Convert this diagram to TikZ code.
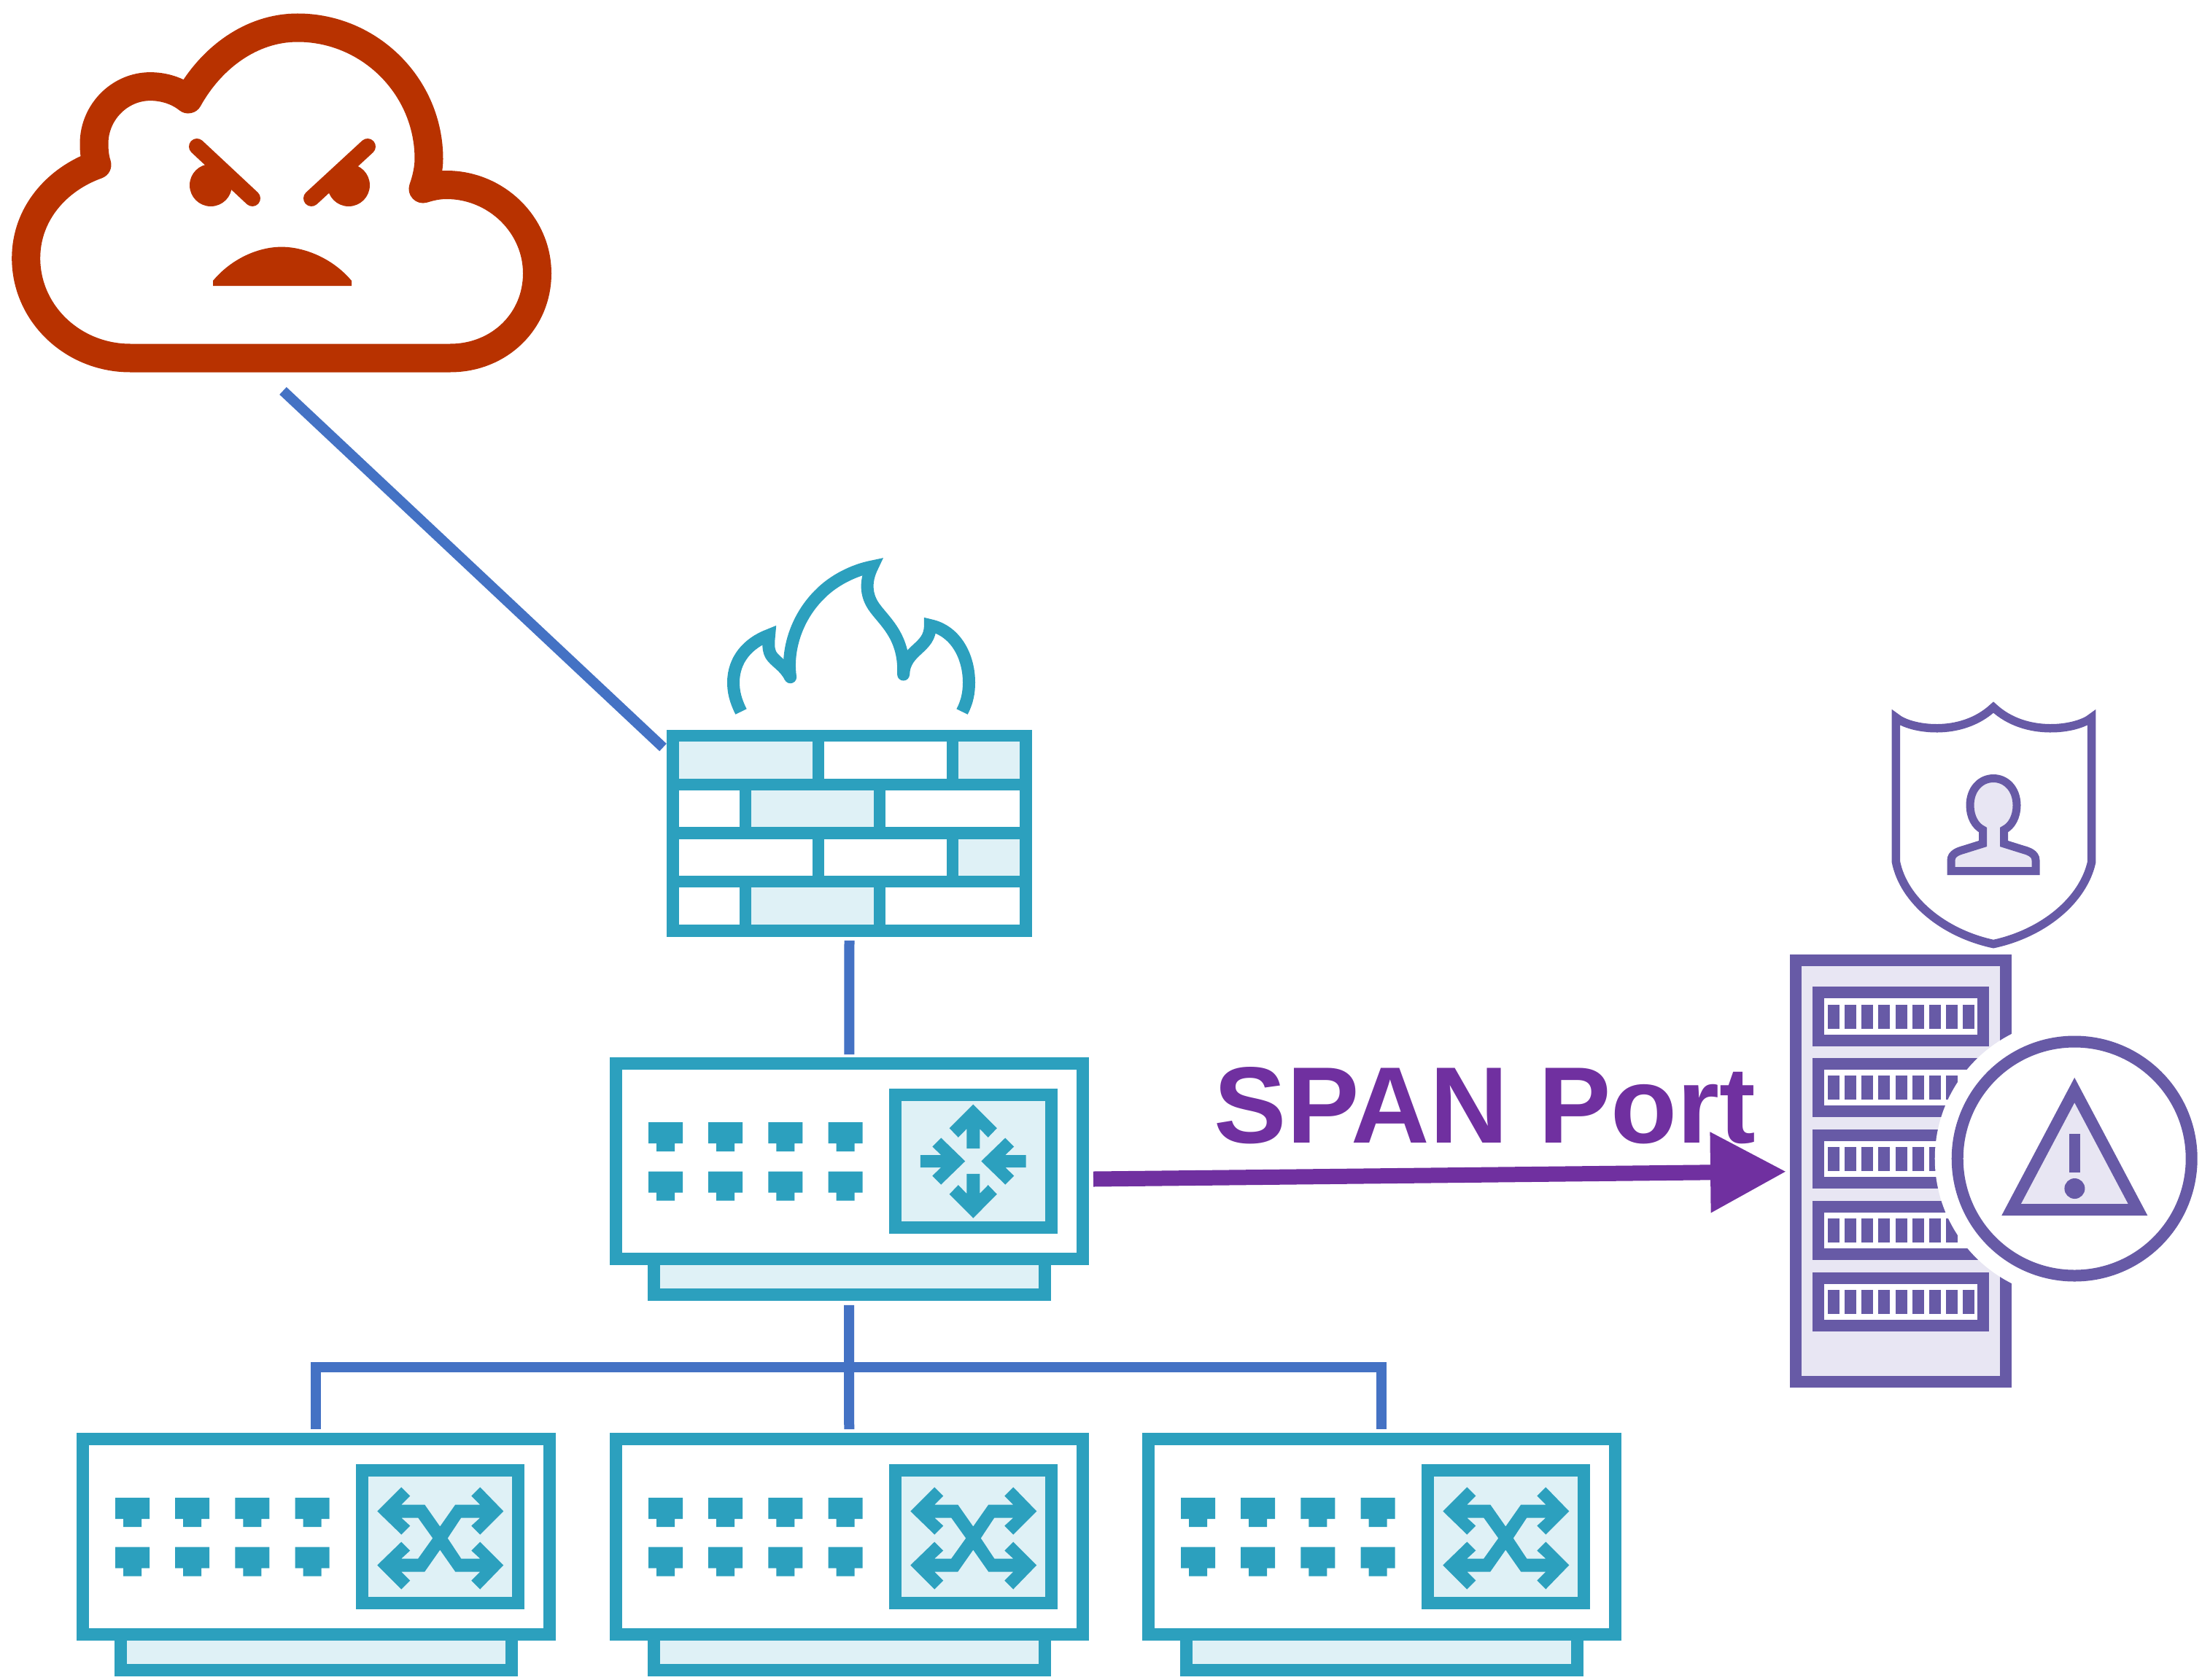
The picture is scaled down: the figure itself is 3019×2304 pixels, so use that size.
\documentclass[tikz,border=0pt]{standalone}
\usepackage{fontspec}
\usepackage{tikz}
\usetikzlibrary{arrows.meta}
\setmainfont{Liberation Sans}
\definecolor{netteal}{HTML}{2CA0BE}
\definecolor{nettint}{HTML}{DFF1F6}
\definecolor{rackpurple}{HTML}{675AA6}
\definecolor{racktint}{HTML}{E8E6F3}
\definecolor{cloudred}{HTML}{B83200}
\definecolor{linkblue}{HTML}{4472C4}
\definecolor{spanpurple}{HTML}{7030A0}
\tikzset{
	devedge/.style={draw=netteal, line width=17pt, inner sep=0pt},
	linkline/.style={draw=linkblue, line width=14pt},
	rackline/.style={draw=rackpurple, line width=16pt},
}
% one network box: body, foot, panel and the eight ports
\newcommand{\netbox}[3]{
	\begin{scope}[shift={(#2,#3)}]
		\node[devedge, fill=nettint, minimum width=536pt, minimum height=48.5pt] (#1foot) at (1164,1751) {};
		\node[devedge, fill=white, minimum width=639.5pt, minimum height=268pt] (#1) at (1164.25,1592.5) {};
		\node[devedge, fill=nettint, minimum width=214.5pt, minimum height=182pt] (#1panel) at (1334.25,1592.5) {};
		\foreach \i in {0,...,3} {
			\foreach \j in {0,1} {
				\fill[netteal] (889+82.2*\i,1539+67.7*\j) -- ++(47,0) -- ++(0,29) -- ++(-11,0) -- ++(0,11) -- ++(-25,0) -- ++(0,-11) -- ++(-11,0) -- cycle;
			}
		}
	\end{scope}
}
\newcommand{\switcharrows}[1]{
	\fill[netteal, shift={(#1.center)}, yshift=-2pt] (-86,-37) -- (-53,-70) -- (-41,-58) -- (-53,-46) -- (-21,-46) -- (0,-16) -- (21,-46) -- (55,-46) -- (43,-58) -- (55,-70) -- (87,-37) -- (55,-5) -- (43,-17) -- (55,-28) -- (29,-28) -- (10.5,0)
		-- (29,28) -- (55,28) -- (43,17) -- (55,5) -- (87,37) -- (55,70) -- (43,58) -- (55,46) -- (21,46) -- (0,16) -- (-21,46) -- (-53,46) -- (-41,58) -- (-53,70) -- (-86,37) -- (-53,5) -- (-41,17) -- (-53,28) -- (-30,28) -- (-10,0) -- (-30,-28) -- (-53,-28) -- (-41,-17) -- (-53,-5) -- cycle;
}
\begin{document}
\begin{tikzpicture}[x=1pt, y=-1pt]
	\useasboundingbox (0,0) rectangle (3019,2304);
	% angry cloud
	\draw[cloudred, line width=39pt, line join=round] (178.6,491) -- (617,491) .. controls (685,491) and (736.5,440) .. (736.5,375) .. controls (736.5,308) and (680,253.5) .. (612,253.5) .. controls (600,253.5) and (590,256) .. (580,259)
		.. controls (585,245) and (588,230) .. (588,218) .. controls (588,119) and (507,38) .. (408,38) .. controls (344,38) and (289,80) .. (258,136) .. controls (243,124) and (224,118.6) .. (206,118.6) .. controls (164,118.6) and (129,154) .. (129,197) .. controls (129,207) and (130,217) .. (133,226)
		.. controls (77,246) and (35.7,294) .. (35.7,354) .. controls (35.7,430) and (100,491) .. (178.6,491) -- cycle;
	\draw[cloudred, line width=22pt, line cap=round] (270,201) -- (346,272);
	\draw[cloudred, line width=22pt, line cap=round] (504,201) -- (427,272);
	\fill[cloudred] (289,254) circle (29);
	\fill[cloudred] (478,254) circle (29);
	\fill[cloudred] (292,392) -- (292,385) .. controls (318,354) and (355,338.6) .. (386,338.6) .. controls (417,338.6) and (456,354) .. (482,385) -- (482,392) -- cycle;
	\coordinate (cloudfoot) at (388,536);

	% firewall
	\fill[nettint] (922.5,1009) rectangle (1122,1076);
	\fill[nettint] (1306,1009) rectangle (1406.5,1076);
	\fill[nettint] (1022,1076) rectangle (1206,1142.5);
	\fill[nettint] (1306,1142.5) rectangle (1406.5,1209);
	\fill[nettint] (1022,1209) rectangle (1206,1276.5);
	\node[devedge, line width=16.5pt, minimum width=484pt, minimum height=267.5pt] (firewall) at (1164.5,1142.75) {};
	\foreach \y in {1076,1142.5,1209} {
		\draw[netteal, line width=16.5pt] (922.5,\y) -- (1406.5,\y);
	}
	\foreach \x/\a/\b in {1122/1009/1076, 1306/1009/1076, 1022/1076/1142.5, 1206/1076/1142.5, 1122/1142.5/1209, 1306/1142.5/1209, 1022/1209/1276.5, 1206/1209/1276.5} {
		\draw[netteal, line width=16.5pt] (\x,\a) -- (\x,\b);
	}
	\coordinate (firewallin) at (909,1025);
	% flames
	\draw[netteal, line width=17pt] (1016,976) .. controls (1008,960) and (1005.5,948) .. (1005.5,936) .. controls (1005.5,905) and (1025,882) .. (1054.5,871) .. controls (1052,895) and (1056,899) .. (1066,908) .. controls (1074,915) and (1079,920) .. (1083.6,928.7);
	\draw[netteal, line width=17pt] (1083.6,928.7) .. controls (1078,890) and (1093,845) .. (1125,814) .. controls (1143,796) and (1170,782) .. (1196,777) .. controls (1187,795) and (1187,812) .. (1195,827) .. controls (1207,849) and (1241,868) .. (1238.6,925);
	\draw[netteal, line width=17pt] (1238.6,925) .. controls (1240,890) and (1276,890) .. (1275.3,857.6) .. controls (1310,865) and (1328.5,900) .. (1328.5,936) .. controls (1328.5,950) and (1326,963) .. (1319,976);
	\fill[netteal] (1083.6,928.7) circle (8.5);
	\fill[netteal] (1238.6,925) circle (8.5);

	% router and the three switches
	\netbox{router}{0}{0}
	\netbox{swleft}{-731}{515}
	\netbox{swmid}{0}{515}
	\netbox{swright}{730}{515}
	\begin{scope}[shift={(routerpanel.center)}]
		\foreach \s in {1,-1} {
			\fill[netteal, yscale=\s] (0,-78) -- (32.6,-45.3) -- (20.5,-32.7) -- (9,-44.3) -- (9,-17.3) -- (-9,-17.3) -- (-9,-44.3) -- (-20.5,-32.7) -- (-32.6,-45.3) -- cycle;
			\fill[netteal, xscale=\s] (11,0) -- (44,-32) -- (56,-20) -- (44,-8.5) -- (72.3,-8.5) -- (72.3,8.5) -- (44,8.5) -- (56,20) -- (44,32) -- cycle;
		}
	\end{scope}
	\switcharrows{swleftpanel}
	\switcharrows{swmidpanel}
	\switcharrows{swrightpanel}

	% links
	\coordinate (bus) at (1164.5,1875);
	\draw[linkline] (cloudfoot) -- (firewallin);
	\draw[linkline, shorten <=5pt, shorten >=4pt] (firewall.south) -- (router.north);
	\draw[linkline, shorten <=6pt, shorten >=5pt] (routerfoot.south) -- (swmid.north);
	\draw[linkline, shorten <=5pt, shorten >=5pt] (swleft.north) |- (bus) -| (swright.north);

	% server rack
	\node[rackline, fill=racktint, inner sep=0pt, minimum width=287.8pt, minimum height=578.5pt] (rack) at (2606,1605.75) {};
	\foreach \i in {0,...,4} {
		\draw[rackline, fill=white] (2492.5,1361+97.9*\i) rectangle ++(226.8,65.5);
		\foreach \j in {0,...,8} {
			\fill[rackpurple] (2505.9+23.17*\j,1377.5+97.9*\i) rectangle ++(16,33);
		}
	}
	% alert badge
	\fill[white] (2844.2,1589) circle (191.5);
	\draw[rackline, fill=white] (2844.2,1589) circle (160.5);
	\draw[rackline, fill=racktint] (2844.2,1495) -- (2931,1659) -- (2757.5,1659) -- cycle;
	\fill[rackpurple] (2836.6,1555) rectangle (2852.4,1608);
	\fill[rackpurple] (2844.4,1630) circle (14);
	% shield with user
	\draw[rackline, line width=11.5pt] (2599.4,984) .. controls (2618,1000) and (2688,1012) .. (2733,970) .. controls (2778,1012) and (2849,1000) .. (2867.7,984) -- (2867.7,1182) .. controls (2856,1235) and (2801,1280) .. (2733,1294.6) .. controls (2665,1280) and (2610,1235) .. (2599.4,1182) -- cycle;
	\draw[rackline, fill=racktint, line width=11pt] (2675,1194.5) -- (2675,1180) .. controls (2675,1170) and (2686,1167) .. (2693,1165) -- (2718.5,1157) -- (2718.5,1138) .. controls (2708,1133) and (2701,1120) .. (2701,1104.5) .. controls (2701,1082) and (2715.5,1067.5) .. (2733,1067.5)
		.. controls (2750.5,1067.5) and (2765,1082) .. (2765,1104.5) .. controls (2765,1120) and (2758,1133) .. (2747.5,1138) -- (2747.5,1157) -- (2773,1165) .. controls (2780,1167) and (2791,1170) .. (2791,1180) -- (2791,1194.5) -- cycle;

	% span port
	\node[anchor=base, inner sep=0pt, text=spanpurple, font=\fontsize{149}{149}\selectfont\bfseries] (spanlabel) at (2036,1567) {SPAN Port};
	\coordinate (spanstart) at (1499,1617);
	\coordinate (spanend) at (2449,1606.7);
	\draw[spanpurple, line width=21pt, -{Triangle[length=104pt, width=105pt]}] (spanstart) -- (spanend);
\end{tikzpicture}
\end{document}
